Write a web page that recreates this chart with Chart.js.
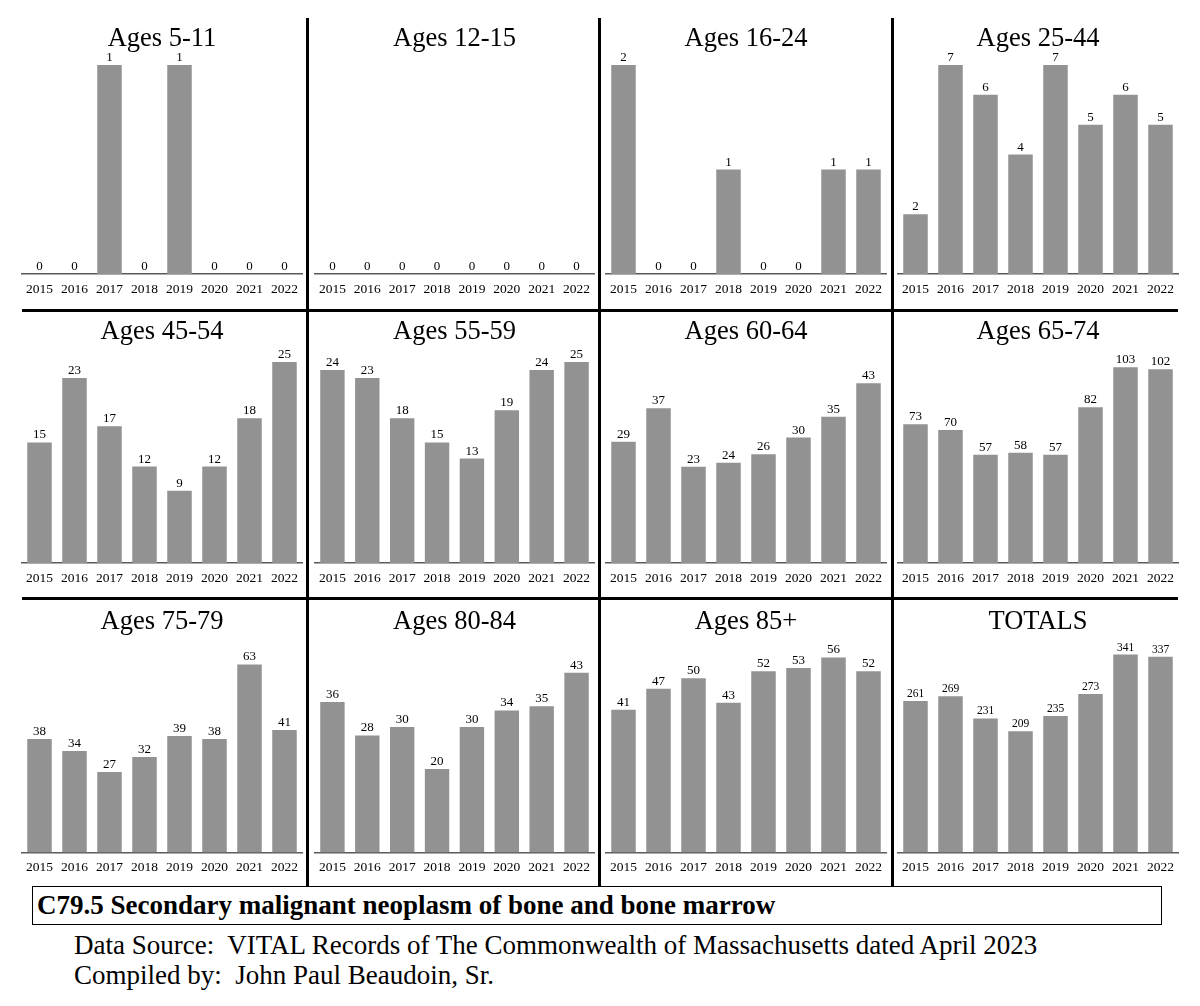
<!DOCTYPE html>
<html>
<head>
<meta charset="utf-8">
<title>C79.5 Secondary malignant neoplasm of bone and bone marrow</title>
<script src="https://cdn.jsdelivr.net/npm/chart.js@4.4.1/dist/chart.umd.min.js"></script>
<style>
    html, body { margin: 0; padding: 0; background: #fff; }
    body { position: relative; width: 1200px; height: 1006px; overflow: hidden; font-family: "Liberation Serif", "Times New Roman", serif; color: #000; }
    canvas { position: absolute; }
    .rule { position: absolute; background: #000; z-index: 2; }
    .caption { position: absolute; left: 32px; top: 886px; width: 1130px; height: 39px; box-sizing: border-box; border: 1.5px solid #000; font-weight: bold; font-size: 27px; line-height: 36px; padding-left: 4px; white-space: pre; }
    .note { position: absolute; left: 74px; font-size: 27px; line-height: 30px; white-space: pre; }
</style>
</head>
<body>

<div class="caption">C79.5 Secondary malignant neoplasm of bone and bone marrow</div>
<div class="note" style="top:930px;">Data Source:  VITAL Records of The Commonwealth of Massachusetts dated April 2023</div>
<div class="note" style="top:960px;">Compiled by:  John Paul Beaudoin, Sr.</div>

<script>
// Data tahun (kategori sumbu x)
const years = ['2015', '2016', '2017', '2018', '2019', '2020', '2021', '2022'];

// Nilai tiap kelompok umur
const ages5to11  = [0, 0, 1, 0, 1, 0, 0, 0];
const ages12to15 = [0, 0, 0, 0, 0, 0, 0, 0];
const ages16to24 = [2, 0, 0, 1, 0, 0, 1, 1];
const ages25to44 = [2, 7, 6, 4, 7, 5, 6, 5];
const ages45to54 = [15, 23, 17, 12, 9, 12, 18, 25];
const ages55to59 = [24, 23, 18, 15, 13, 19, 24, 25];
const ages60to64 = [29, 37, 23, 24, 26, 30, 35, 43];
const ages65to74 = [73, 70, 57, 58, 57, 82, 103, 102];
const ages75to79 = [38, 34, 27, 32, 39, 38, 63, 41];
const ages80to84 = [36, 28, 30, 20, 30, 34, 35, 43];
const ages85plus = [41, 47, 50, 43, 52, 53, 56, 52];
const totals     = [261, 269, 231, 209, 235, 273, 341, 337];

const panelTitles = ['Ages 5-11', 'Ages 12-15', 'Ages 16-24', 'Ages 25-44',
                     'Ages 45-54', 'Ages 55-59', 'Ages 60-64', 'Ages 65-74',
                     'Ages 75-79', 'Ages 80-84', 'Ages 85+', 'TOTALS'];
const panelSeries = [ages5to11, ages12to15, ages16to24, ages25to44,
                     ages45to54, ages55to59, ages60to64, ages65to74,
                     ages75to79, ages80to84, ages85plus, totals];
// Maksimum sumbu y tiap panel (sumbu tidak ditampilkan)
const axisMax = [1, 1, 2, 7, 26, 26, 50, 110, 70, 50, 60, 360];

// Layout grid: kolom (x, lebar, padding kiri/kanan) dan baris (y, tinggi, posisi judul/plot)
const columns = [
    { x: 0,   w: 306, left: 22, right: 4 },
    { x: 309, w: 289, left: 6,  right: 4 },
    { x: 601, w: 290, left: 5,  right: 5 },
    { x: 894, w: 306, left: 4,  right: 22 }
];
const rows = [
    { y: 0,   h: 308, title: 39,    top: 65,    bottom: 274 },
    { y: 311, h: 286, title: 332.5, top: 354,   bottom: 563 },
    { y: 600, h: 285, title: 622.5, top: 643.5, bottom: 852.5 }
];

const SERIF = '"Liberation Serif", "Times New Roman", serif';
const TITLE_SIZE = 26.5;

// Plugin kecil: angka di atas batang
const valueLabels = {
    id: 'valueLabels',
    afterDatasetsDraw(chart, args, opts) {
        const ctx = chart.ctx;
        const values = chart.data.datasets[0].data;
        ctx.save();
        ctx.font = opts.size + 'px ' + SERIF;
        ctx.fillStyle = '#000';
        ctx.textAlign = 'center';
        ctx.textBaseline = 'alphabetic';
        chart.getDatasetMeta(0).data.forEach((bar, i) => {
            ctx.fillText(String(values[i]), bar.x, bar.y - 4);
        });
        ctx.restore();
    }
};

function addRule(x, y, w, h) {
    const d = document.createElement('div');
    d.className = 'rule';
    d.style.left = x + 'px';
    d.style.top = y + 'px';
    d.style.width = w + 'px';
    d.style.height = h + 'px';
    document.body.appendChild(d);
}

function renderPanel(index) {
    const col = columns[index % 4];
    const row = rows[Math.floor(index / 4)];

    const canvas = document.createElement('canvas');
    canvas.width = col.w;
    canvas.height = row.h;
    canvas.style.left = col.x + 'px';
    canvas.style.top = row.y + 'px';
    canvas.style.width = col.w + 'px';
    canvas.style.height = row.h + 'px';
    document.body.appendChild(canvas);

    const titleTop = row.title - row.y - TITLE_SIZE / 2;
    const titleGap = row.top - row.title - TITLE_SIZE / 2;
    const axisHeight = row.y + row.h - row.bottom;

    new Chart(canvas.getContext('2d'), {
        type: 'bar',
        data: {
            labels: years,
            datasets: [{
                data: panelSeries[index],
                backgroundColor: '#929292',
                borderWidth: 0,
                barPercentage: 0.7,
                categoryPercentage: 1.0
            }]
        },
        options: {
            responsive: false,
            animation: false,
            layout: {
                padding: { top: titleTop, bottom: 0, left: col.left, right: col.right }
            },
            plugins: {
                legend: { display: false },
                tooltip: { enabled: false },
                title: {
                    display: true,
                    text: panelTitles[index],
                    color: '#000',
                    font: { family: SERIF, size: TITLE_SIZE, weight: 'normal', lineHeight: 1 },
                    padding: { top: 0, bottom: titleGap }
                },
                valueLabels: { size: index === 11 ? 11.5 : 13 }
            },
            scales: {
                x: {
                    grid: { display: false, drawTicks: false },
                    border: { display: true, color: '#5a5a5a', width: 1.5 },
                    ticks: {
                        color: '#000',
                        font: { family: SERIF, size: 13.5 },
                        padding: 7,
                        maxRotation: 0,
                        autoSkip: false
                    },
                    afterFit: scale => { scale.height = axisHeight; }
                },
                y: {
                    display: false,
                    min: 0,
                    max: axisMax[index]
                }
            }
        },
        plugins: [valueLabels]
    });
}

panelTitles.forEach((t, i) => renderPanel(i));

// Garis pemisah panel
[306, 598, 891].forEach(x => addRule(x, 18, 3, 868));
[308.5, 597].forEach(y => addRule(22, y, 1156, 3));
</script>
</body>
</html>
